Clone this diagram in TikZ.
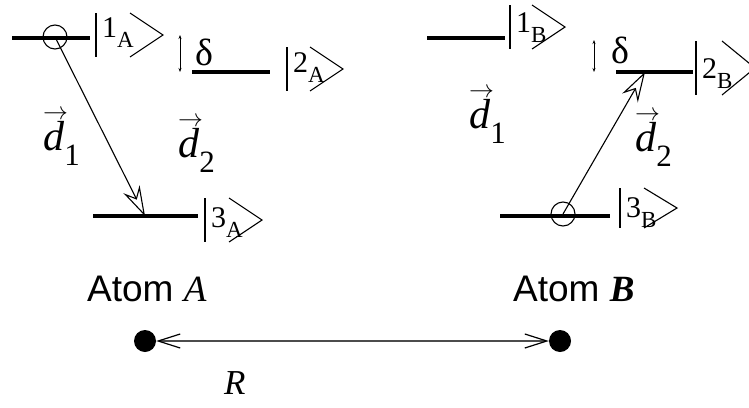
\documentclass[tikz,border=0pt]{standalone}
\usepackage{fontspec}
\setmainfont{Liberation Serif}
\setsansfont{Liberation Sans}
\usetikzlibrary{arrows.meta}

\newcommand{\fs}[1]{\fontsize{#1}{#1}\selectfont}
\newcommand{\dip}[1]{\makebox[0pt][l]{\raisebox{31pt}{\fs{26}$\rightarrow$}}\textit{d}\raisebox{-15pt}{\fs{31}#1}}
% ket: name, bar x, centre y, digit, subscript, width, half height, baseline shift
\newcommand{\ket}[8]{%
  \draw[thinl] (#2,#3-#7) -- (#2,#3+#7);
  \draw[thinl] (#2+#6-33,#3-#7) -- (#2+#6,#3) -- (#2+#6-33,#3+#7);
  \node[txt,font=\fs{30}] (#1) at (#2+6,#3+#8) {#4\raisebox{-10pt}{\fs{23}#5}};}

\begin{document}
\begin{tikzpicture}[x=1pt,y=-1pt,
  level/.style={line width=4pt},
  thinl/.style={line width=1.1pt},
  trans/.style={line width=1.1pt,-{Stealth[open,length=30pt,width=18pt,inset=10pt]}},
  gap/.style={line width=0.6pt,{Stealth[length=4pt,width=3pt]}-{Stealth[length=4pt,width=3pt]}},
  dot/.style={circle,fill,inner sep=0,minimum size=22pt},
  txt/.style={inner sep=0,anchor=base west}]
  \useasboundingbox (0,0) rectangle (749,407);

  % atom A
  \draw[level] (12,38) -- (90,38);
  \draw[level] (192,72) -- (270,72);
  \draw[level] (93,216) -- (198,216);
  \node[circle,draw,thinl,inner sep=0,minimum size=24pt] (cA) at (55,37) {};
  \coordinate (tA) at (145,216);
  \draw[trans] (cA.center) -- (tA);
  \ket{k1A}{96}{35}{1}{A}{67}{22}{2}
  \ket{k2A}{287}{69}{2}{A}{56}{22}{3}
  \ket{k3A}{205}{220}{3}{A}{57}{22}{7}
  \coordinate (gA1) at (180,35);
  \coordinate (gA2) at (180,72);
  \draw[gap] (gA1) -- (gA2);
  \node[txt,font=\fs{38}] (delA) at (195,65) {δ};
  \node[txt,font=\fs{42}] (d1A) at (43,150) {\dip{1}};
  \node[txt,font=\fs{42}] (d2A) at (178,157) {\dip{2}};
  \node[txt,font=\sffamily\fs{37}] (atA) at (87,301) {Atom \textit{\rmfamily A}};

  % atom B
  \draw[level] (427,38) -- (505,38);
  \draw[level] (616,72) -- (693,72);
  \draw[level] (500,216) -- (610,216);
  \node[circle,draw,thinl,inner sep=0,minimum size=24pt] (cB) at (563,214) {};
  \coordinate (tB) at (645,72);
  \draw[trans] (cB.center) -- (tB);
  \ket{k1B}{510}{27}{1}{B}{55}{22}{5}
  \ket{k2B}{696}{68}{2}{B}{59}{27}{10}
  \ket{k3B}{620}{208}{3}{B}{57}{20}{9}
  \coordinate (gB1) at (594,40);
  \coordinate (gB2) at (594,72);
  \draw[gap] (gB1) -- (gB2);
  \node[txt,font=\fs{38}] (delB) at (611,63) {δ};
  \node[txt,font=\fs{42}] (d1B) at (469,128) {\dip{1}};
  \node[txt,font=\fs{42}] (d2B) at (635,151) {\dip{2}};
  \node[txt,font=\sffamily\fs{37}] (atB) at (513,301) {Atom \textbf{\textit{\rmfamily B}}};

  % distance
  \node[dot] (pA) at (145,341) {};
  \node[dot] (pB) at (560,341) {};
  \draw[line width=1.2pt,gray!60!black,{Straight Barb[length=22pt,width=14pt,black]}-{Straight Barb[length=22pt,width=14pt,black]}] (pA) -- (pB);
  \node[txt,font=\itshape\fs{35}] (R) at (224,394) {R};
\end{tikzpicture}
\end{document}
